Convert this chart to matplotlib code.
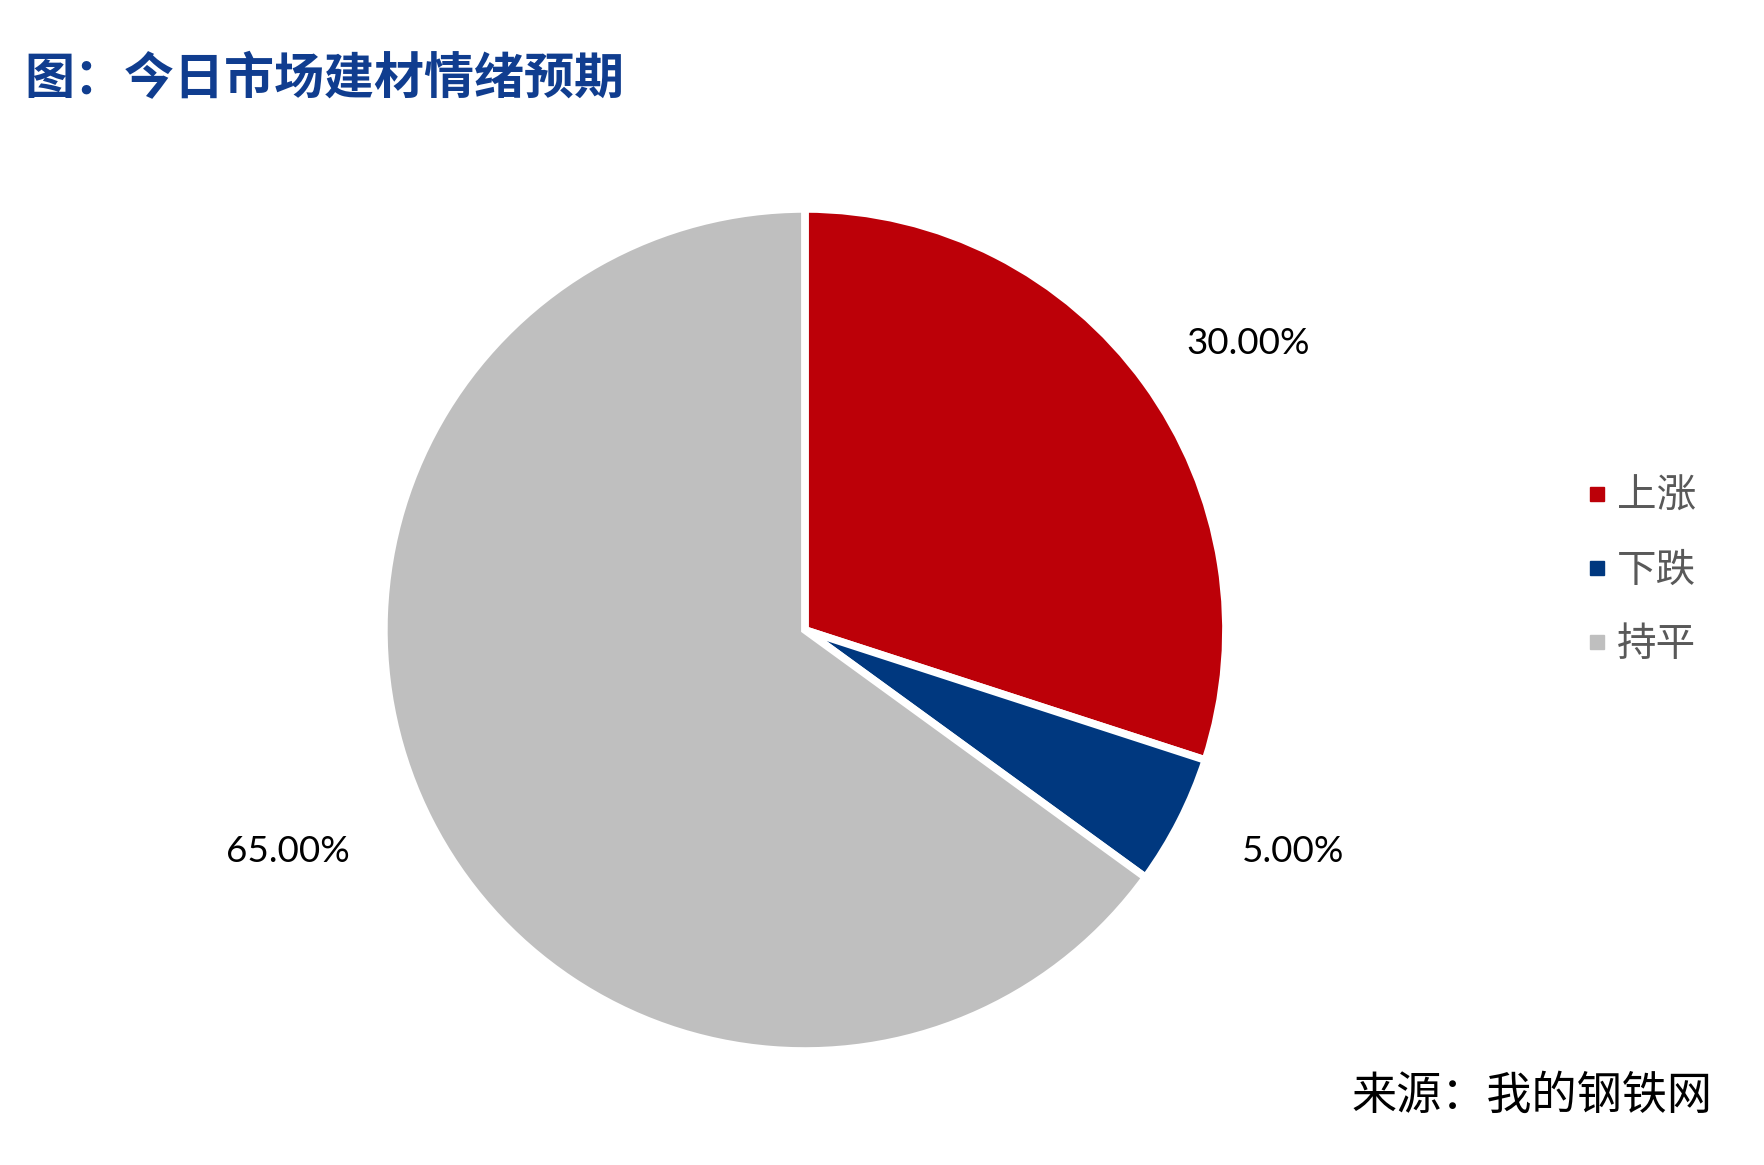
import matplotlib
matplotlib.use("Agg")
import matplotlib.pyplot as plt
from matplotlib.lines import Line2D

plt.rcParams['font.family'] = ['Noto Sans CJK SC', 'DejaVu Sans']

labels = ["上涨", "下跌", "持平"]
shares = [30.0, 5.0, 65.0]
colors = ["#BC0008", "#00387F", "#BFBFBF"]

fig = plt.figure(figsize=(17.64, 11.65), dpi=100)
fig.patch.set_facecolor("white")

ax = fig.add_axes([0.2188, 0.0996, 0.475, 0.7193])
wedges, texts, autotexts = ax.pie(
    shares, colors=colors, startangle=90, counterclock=False,
    radius=1.005, autopct="%.2f%%", pctdistance=1.3,
    wedgeprops=dict(edgecolor="white", linewidth=5.5),
    textprops=dict(fontsize=26.5, color="black", family=["Lato", "DejaVu Sans"]),
)
# labels sit a bit flatter than the wedge mid-angles (like excel's best fit)
for t in autotexts:
    x, y = t.get_position()
    if x < 0:
        x *= 1.06
    t.set_position((x, y * 0.89))

ax.set_xlim(-1, 1)
ax.set_ylim(-1, 1)
ax.set_aspect("equal")
ax.axis("off")

# title and source
fig.text(0.014, 0.932, "图：今日市场建材情绪预期", fontsize=36, fontweight="bold",
         color="#103D8F", ha="left", va="center")
fig.text(0.971, 0.059, "来源：我的钢铁网", fontsize=32.5, color="black",
         ha="right", va="center")

handles = [Line2D([0], [0], marker="s", linestyle="none", markersize=9.5,
                  markerfacecolor=c, markeredgecolor=c) for c in colors]
leg = fig.legend(handles, labels, loc="center left", bbox_to_anchor=(0.9, 0.51),
                 frameon=False, fontsize=28.5, handlelength=0.45, handletextpad=0.3,
                 labelspacing=0.86, borderpad=0, borderaxespad=0)
for t in leg.get_texts():
    t.set_color("#595959")

fig.savefig("out.png", dpi=100, facecolor="white")
